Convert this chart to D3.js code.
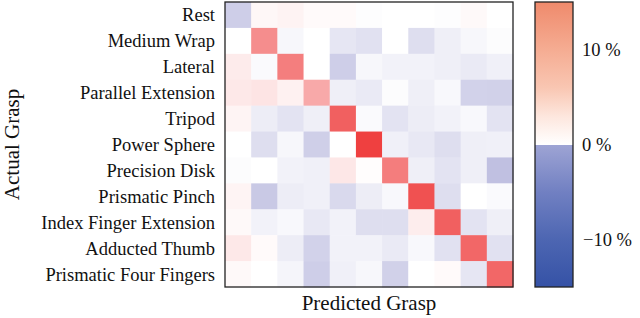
<!DOCTYPE html>
<html>
<head>
<meta charset="utf-8">
<script src="https://cdn.jsdelivr.net/npm/d3@7"></script>
<style>
body { margin: 0; background: #fff; }
text { font-family: "Liberation Serif", "DejaVu Serif", serif; fill: #111; }
</style>
</head>
<body>
<svg class="chart"></svg>
<script>
var width = 640, height = 318;

// grasp classes, same order on both axes
var grasps = ["Rest", "Medium Wrap", "Lateral", "Parallel Extension", "Tripod",
    "Power Sphere", "Precision Disk", "Prismatic Pinch", "Index Finger Extension",
    "Adducted Thumb", "Prismatic Four Fingers"];

// difference values in percent, one array per actual grasp (row)
var rowRest     = [-3.0, 0.5, 0.8, 0.3, 0.3, -0.1, 0, 0, -0.1, 0.4, 0];
var rowMedWrap  = [0, 7.5, -0.5, 0, -1.5, -1.8, 0, -2.0, -1.0, -0.5, -0.2];
var rowLateral  = [1.3, -0.3, 8.5, 0, -3.0, -0.5, -0.8, -0.8, -1.0, -1.3, -0.9];
var rowParallel = [1.5, 1.8, 0.9, 5.7, -1.0, -1.3, -0.2, -1.0, -0.4, -2.7, -2.8];
var rowTripod   = [0.7, -1.1, -1.7, -1.0, 10.5, -0.3, -1.7, -1.1, -0.8, -0.4, -1.7];
var rowSphere   = [0, -2.0, -0.5, -2.9, 0, 12.6, -0.9, -1.4, -2.0, -1.0, -0.9];
var rowDisk     = [-0.2, 0, -0.8, -0.9, 1.6, 0.1, 8.6, -1.0, -1.7, -1.0, -3.8];
var rowPinch    = [0.7, -3.3, -1.1, -0.9, -2.3, -1.1, -0.4, 11.5, -2.0, 0, -0.3];
var rowIndex    = [0.4, -0.8, -0.4, -1.4, -0.8, -2.0, -2.0, 1.2, 10.5, -1.7, -1.0];
var rowThumb    = [1.5, 0.3, -1.1, -2.7, -0.8, -0.8, -1.3, -0.4, -1.8, 10.0, -1.8];
var rowFour     = [0.4, 0, -0.6, -3.0, -0.9, -0.5, -2.8, 0, 0.3, -1.5, 10.0];
var values = [rowRest, rowMedWrap, rowLateral, rowParallel, rowTripod, rowSphere,
    rowDisk, rowPinch, rowIndex, rowThumb, rowFour];

// colorbar ticks
var cbTicks = [-10, 0, 10];
var cbDomain = [-15, 15];

var plot = { left: 225, top: 2, right: 513, bottom: 287 };
var cb = { left: 535, right: 573 };

var svg = d3.select(".chart")
    .attr("width", width)
    .attr("height", height);

var x = d3.scaleBand().domain(d3.range(grasps.length)).range([plot.left, plot.right]);
var y = d3.scaleBand().domain(d3.range(grasps.length)).range([plot.top, plot.bottom]);

// cell colours: white centre, red above, lavender below
var posColor = d3.scaleLinear().domain([0, 13]).range(["#ffffff", "#ee3a3a"]).clamp(true);
var negColor = d3.scaleLinear().domain([0, -6]).range(["#ffffff", "#9c9cd0"]).clamp(true);
function cellColor(v) { return v >= 0 ? posColor(v) : negColor(v); }

var cells = [];
values.forEach(function(row, i) {
    row.forEach(function(v, j) { cells.push({ r: i, c: j, v: v }); });
});

svg.append("g").selectAll("rect")
    .data(cells)
    .enter()
    .append("rect")
    .attr("x", function(d) { return x(d.c); })
    .attr("y", function(d) { return y(d.r); })
    .attr("width", x.bandwidth() + 0.5)
    .attr("height", y.bandwidth() + 0.5)
    .attr("fill", function(d) { return cellColor(d.v); });

svg.append("rect")
    .attr("x", plot.left).attr("y", plot.top)
    .attr("width", plot.right - plot.left).attr("height", plot.bottom - plot.top)
    .attr("fill", "none").attr("stroke", "#222").attr("stroke-width", 1.3);

// row labels
svg.append("g").selectAll("text")
    .data(grasps)
    .enter()
    .append("text")
    .attr("x", plot.left - 10)
    .attr("y", function(d, i) { return y(i) + y.bandwidth() / 2; })
    .attr("dy", "0.35em")
    .attr("text-anchor", "end")
    .style("font-size", "18.5px")
    .text(function(d) { return d; });

svg.append("text")
    .attr("x", (plot.left + plot.right) / 2)
    .attr("y", 310)
    .attr("text-anchor", "middle")
    .style("font-size", "21px")
    .text("Predicted Grasp");

svg.append("text")
    .attr("transform", "translate(19," + ((plot.top + plot.bottom) / 2) + ") rotate(-90)")
    .attr("text-anchor", "middle")
    .style("font-size", "21px")
    .text("Actual Grasp");

// colorbar
var cbY = d3.scaleLinear().domain(cbDomain).range([plot.bottom, plot.top]);
var defs = svg.append("defs");
var grad = defs.append("linearGradient")
    .attr("id", "cbgrad")
    .attr("x1", 0).attr("y1", 1).attr("x2", 0).attr("y2", 0);
var stops = [
    [-15, "#3552a6"], [-10, "#4d66b2"], [-5, "#7180c2"], [-0.01, "#9ea4d4"],
    [0, "#ffffff"], [3, "#fde6dd"], [6, "#f9c6b2"], [10, "#f5ac92"], [15, "#ef8a6c"]
];
grad.selectAll("stop")
    .data(stops)
    .enter()
    .append("stop")
    .attr("offset", function(d) { return (d[0] - cbDomain[0]) / (cbDomain[1] - cbDomain[0]); })
    .attr("stop-color", function(d) { return d[1]; });

svg.append("rect")
    .attr("x", cb.left).attr("y", plot.top)
    .attr("width", cb.right - cb.left).attr("height", plot.bottom - plot.top)
    .attr("fill", "url(#cbgrad)")
    .attr("stroke", "#222").attr("stroke-width", 1.3);

svg.append("g").selectAll("text")
    .data(cbTicks)
    .enter()
    .append("text")
    .attr("x", function(d) { return d < 0 ? cb.right + 10 : cb.right + 9; })
    .attr("y", function(d) { return cbY(d); })
    .attr("dy", "0.35em")
    .style("font-size", "18.5px")
    .text(function(d) { return (d < 0 ? "\u2212" : "") + Math.abs(d) + " %"; });
</script>
</body>
</html>
